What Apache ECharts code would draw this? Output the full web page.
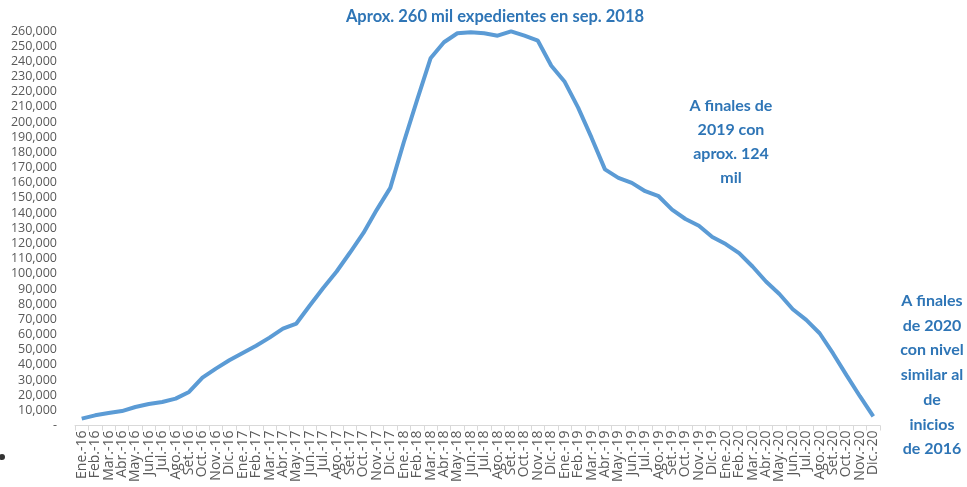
<!DOCTYPE html>
<html lang="es">
<head>
    <meta charset="UTF-8">
    <title>Expedientes 2016-2020</title>
    <script type="text/javascript" src="https://cdn.jsdelivr.net/npm/echarts@6.0.0/dist/echarts.min.js"></script>
    <style type="text/css">
        html, body {
            margin: 0;
            padding: 0;
            height: 100%;
            width: 100%;
            background: #fff;
        }
        #chart {
            width: 967px;
            height: 487px;
        }
    </style>
</head>
<body>

<div id="chart"></div>

<script type="text/javascript">
    // month abbreviations and years used on the x axis
    var monthNames = ['Ene.', 'Feb.', 'Mar.', 'Abr.', 'May.', 'Jun.', 'Jul.', 'Ago.', 'Set.', 'Oct.', 'Nov.', 'Dic.'];
    var years = ['16', '17', '18', '19', '20'];

    // expedientes por mes
    var values2016 = [4500, 6700, 8200, 9500, 12200, 14200, 15500, 17700, 22100, 31500, 37500, 43000];
    var values2017 = [47800, 52600, 57900, 63800, 67200, 79100, 90600, 101500, 114000, 126900, 142300, 156600];
    var values2018 = [186500, 214600, 242000, 252600, 258500, 259100, 258500, 256900, 259800, 256900, 253600, 237100];
    var values2019 = [226500, 209500, 189700, 168800, 163200, 159900, 154400, 151100, 142300, 136100, 131700, 124200];
    var values2020 = [119600, 113600, 104800, 94900, 86700, 76600, 69600, 60800, 47500, 33200, 19300, 6000];

    var categories = [];
    years.forEach(function (y) {
        monthNames.forEach(function (m) {
            categories.push(m + '-' + y);
        });
    });
    var values = [].concat(values2016, values2017, values2018, values2019, values2020);

    var noteColor = '#2e75b6';
    var noteFont = 'bold 16px Lato';

    var myChart = echarts.init(document.getElementById('chart'));

    var option = {
        animation: false,
        grid: {
            left: 75,
            right: 87,
            top: 31,
            bottom: 61.5
        },
        xAxis: {
            type: 'category',
            data: categories,
            boundaryGap: true,
            axisLine: {
                lineStyle: { color: '#d9d9d9', width: 1 }
            },
            axisTick: {
                show: true,
                length: 5,
                lineStyle: { color: '#d9d9d9' }
            },
            axisLabel: {
                interval: 0,
                rotate: 90,
                margin: 5,
                color: '#595959',
                fontFamily: 'Open Sans',
                fontSize: 14
            }
        },
        yAxis: {
            type: 'value',
            min: 0,
            max: 260000,
            interval: 10000,
            splitLine: { show: false },
            axisLine: { show: false },
            axisTick: { show: false },
            axisLabel: {
                margin: 18,
                color: '#595959',
                fontFamily: 'Open Sans',
                fontSize: 12.5,
                formatter: function (v) {
                    return v === 0 ? '-' : v.toLocaleString('en-US');
                }
            }
        },
        series: [
            {
                type: 'line',
                data: values,
                showSymbol: false,
                smooth: false,
                lineStyle: { color: '#5b9bd5', width: 4 },
                itemStyle: { color: '#5b9bd5' }
            }
        ],
        graphic: [
            {
                type: 'text',
                x: 495,
                y: 17,
                style: {
                    text: 'Aprox. 260 mil expedientes en sep. 2018',
                    font: 'bold 16.5px Lato',
                    fill: noteColor,
                    textAlign: 'center',
                    textVerticalAlign: 'middle'
                }
            },
            {
                type: 'text',
                x: 731,
                y: 142,
                style: {
                    text: 'A finales de\n2019 con\naprox. 124\nmil',
                    font: noteFont,
                    fill: noteColor,
                    lineHeight: 24,
                    textAlign: 'center',
                    textVerticalAlign: 'middle'
                }
            },
            {
                type: 'text',
                x: 932,
                y: 375,
                style: {
                    text: 'A finales\nde 2020\ncon nivel\nsimilar al\nde\ninicios\nde 2016',
                    font: noteFont,
                    fill: noteColor,
                    lineHeight: 24.7,
                    textAlign: 'center',
                    textVerticalAlign: 'middle'
                }
            },
            {
                type: 'circle',
                shape: { cx: 2, cy: 457, r: 3 },
                style: { fill: '#333' }
            }
        ]
    };

    myChart.setOption(option);
</script>

</body>
</html>
